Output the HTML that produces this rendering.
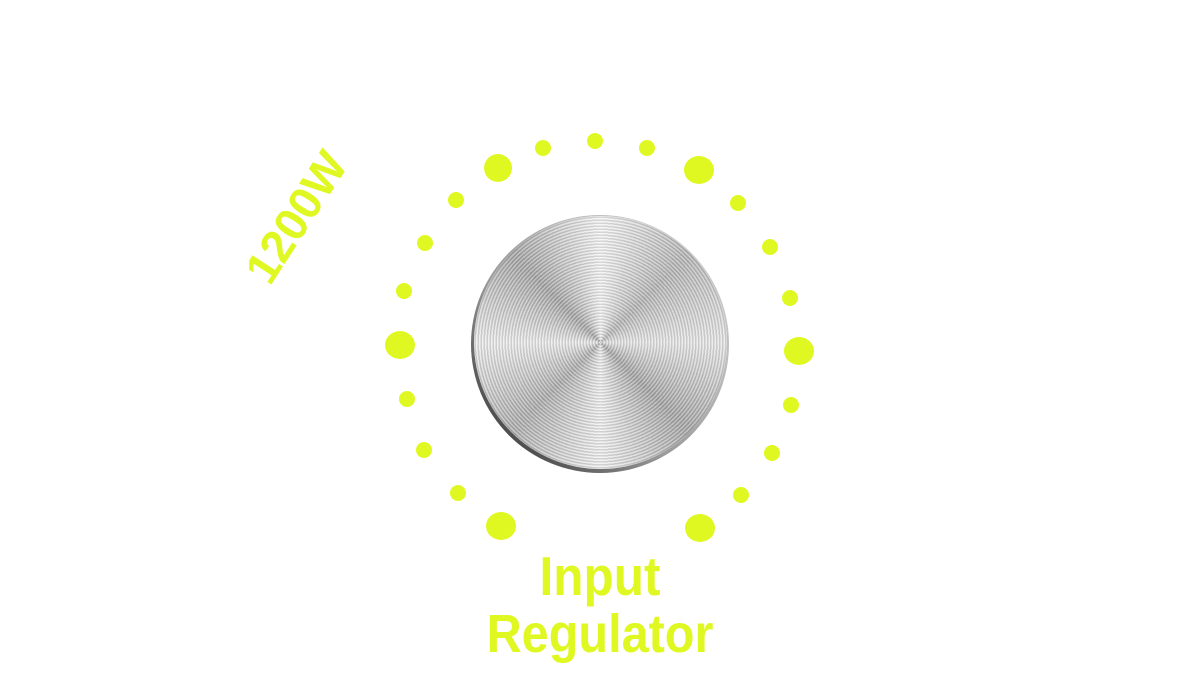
<!DOCTYPE html>
<html><head><meta charset="utf-8"><style>
html,body{margin:0;padding:0;background:#fff;width:1200px;height:698px;overflow:hidden;position:relative}
.d{position:absolute;border-radius:50%;background:#e0f822}
.t{position:absolute;font-family:"Liberation Sans",sans-serif;font-weight:bold;color:#e0f822;white-space:nowrap}
.knob{position:absolute;left:471px;top:215px;width:258px;height:258px;border-radius:50%;
background:linear-gradient(225deg,#ddd,#999 60%,#222);}
.face{position:absolute;left:3px;top:1px;width:253px;height:253px;border-radius:50%;
background:
repeating-radial-gradient(circle at 50% 50%,rgba(255,255,255,0.25) 0 1.5px,rgba(0,0,0,0.12) 1.5px 3px),
conic-gradient(from 0deg,#f4f4f4,#b8b8b8 45deg,#e8e8e8 90deg,#a8a8a8 135deg,#f0f0f0 180deg,#b0b0b0 225deg,#ececec 270deg,#a8a8a8 315deg,#f4f4f4 360deg);}
</style></head><body>
<div class="knob"><div class="face"></div></div>
<div class="d" style="left:484px;top:154px;width:28px;height:28px"></div>
<div class="d" style="left:684px;top:156px;width:30px;height:28px"></div>
<div class="d" style="left:385px;top:331px;width:30px;height:28px"></div>
<div class="d" style="left:784px;top:337px;width:30px;height:28px"></div>
<div class="d" style="left:486px;top:512px;width:30px;height:28px"></div>
<div class="d" style="left:685px;top:514px;width:30px;height:28px"></div>
<div class="d" style="left:535px;top:140px;width:16px;height:16px"></div>
<div class="d" style="left:587px;top:133px;width:16px;height:16px"></div>
<div class="d" style="left:639px;top:140px;width:16px;height:16px"></div>
<div class="d" style="left:448px;top:192px;width:16px;height:16px"></div>
<div class="d" style="left:730px;top:195px;width:16px;height:16px"></div>
<div class="d" style="left:417px;top:235px;width:16px;height:16px"></div>
<div class="d" style="left:762px;top:239px;width:16px;height:16px"></div>
<div class="d" style="left:396px;top:283px;width:16px;height:16px"></div>
<div class="d" style="left:782px;top:290px;width:16px;height:16px"></div>
<div class="d" style="left:399px;top:391px;width:16px;height:16px"></div>
<div class="d" style="left:783px;top:397px;width:16px;height:16px"></div>
<div class="d" style="left:416px;top:442px;width:16px;height:16px"></div>
<div class="d" style="left:764px;top:445px;width:16px;height:16px"></div>
<div class="d" style="left:450px;top:485px;width:16px;height:16px"></div>
<div class="d" style="left:733px;top:487px;width:16px;height:16px"></div>
<div class="t" style="left:0;width:1200px;text-align:center;top:549px;font-size:55px;line-height:55px;transform:scaleX(0.9)">Input</div>
<div class="t" style="left:0;width:1200px;text-align:center;top:607px;font-size:54px;line-height:54px;transform:scaleX(0.9)">Regulator</div>
<div class="t" style="left:296px;top:217px;font-size:46px;line-height:46px;transform:translate(-50%,-50%) rotate(-57deg)">1200W</div>
</body></html>
